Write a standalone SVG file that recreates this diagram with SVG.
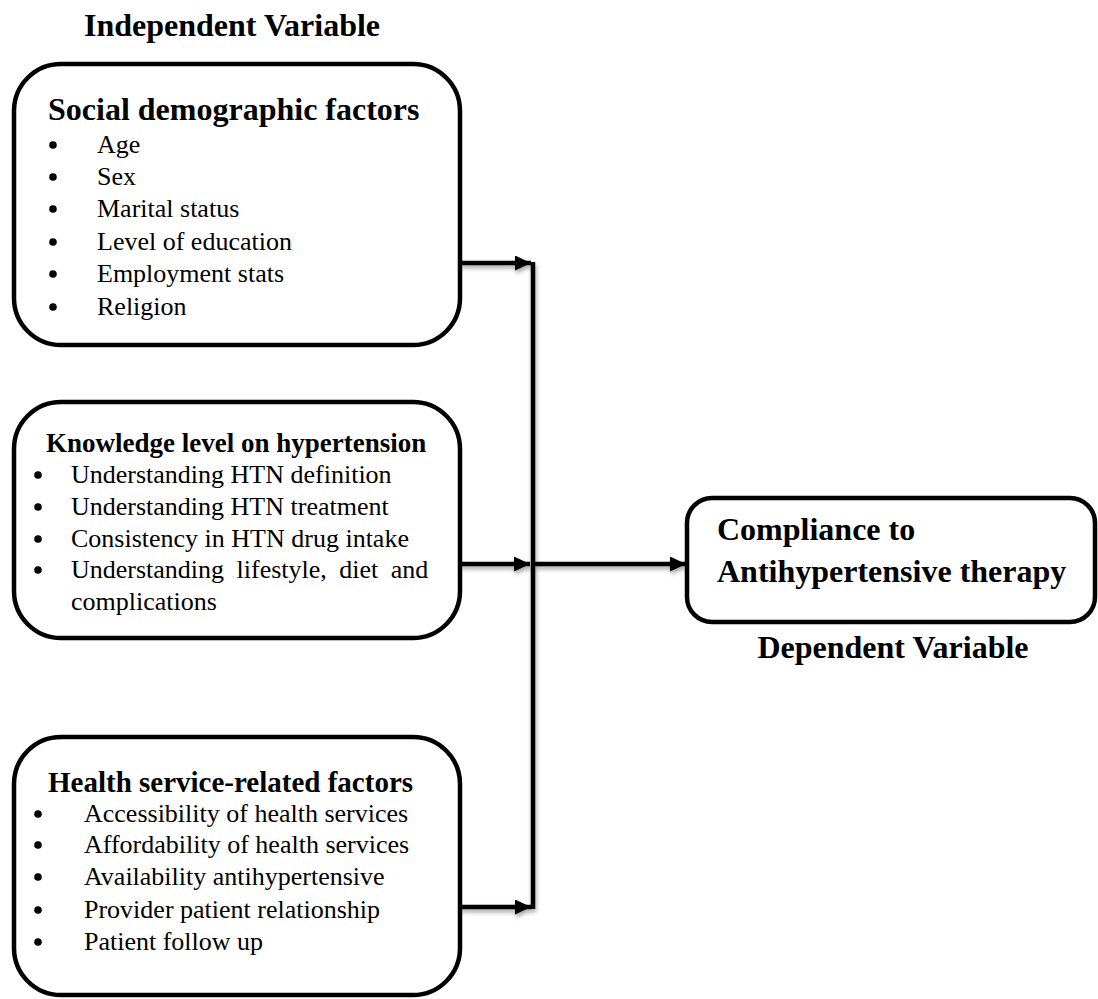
<svg xmlns="http://www.w3.org/2000/svg" width="1098" height="999" viewBox="0 0 1098 999">
<style>
.box{fill:#fff;stroke:#000;stroke-width:4.5}
.t{font-family:"Liberation Serif","Times New Roman",serif;fill:#000}
.b{font-weight:bold}
.h32{font-size:32px}
.it{font-size:26px}
.bu{fill:#000}
.conn{stroke:#000;stroke-width:4.5;fill:none}
</style>
<defs>
<marker id="ah" markerUnits="userSpaceOnUse" markerWidth="16" markerHeight="16" refX="16" refY="7.5" orient="auto">
<path d="M0,0 L16,7.5 L0,15 z" fill="#000"/>
</marker>
<filter id="sh" x="-10%" y="-50%" width="120%" height="300%">
<feDropShadow dx="1" dy="3" stdDeviation="2" flood-color="#000" flood-opacity="0.35"/>
</filter>
</defs>
<text class="t b h32" x="232" y="36" text-anchor="middle">Independent Variable</text>
<g id="social">
<rect class="box" x="14" y="64" width="446" height="281" rx="47" ry="47"/>
<text class="t b h32" x="48" y="120">Social demographic factors</text>
<g class="bu">
<circle cx="53" cy="145" r="3.8"/>
<circle cx="53" cy="177" r="3.8"/>
<circle cx="53" cy="209" r="3.8"/>
<circle cx="53" cy="242" r="3.8"/>
<circle cx="53" cy="274" r="3.8"/>
<circle cx="53" cy="307" r="3.8"/>
</g>
<g class="t it">
<text x="97" y="153">Age</text>
<text x="97" y="185">Sex</text>
<text x="97" y="217">Marital status</text>
<text x="97" y="250">Level of education</text>
<text x="97" y="282">Employment stats</text>
<text x="97" y="315">Religion</text>
</g>
</g>
<g id="knowledge">
<rect class="box" x="14" y="402" width="446" height="236" rx="47" ry="47"/>
<text class="t b" font-size="27" x="46" y="452">Knowledge level on hypertension</text>
<g class="bu">
<circle cx="38" cy="475" r="3.8"/>
<circle cx="38" cy="507" r="3.8"/>
<circle cx="38" cy="539" r="3.8"/>
<circle cx="38" cy="570" r="3.8"/>
</g>
<g class="t it">
<text x="71" y="483">Understanding HTN definition</text>
<text x="71" y="515">Understanding HTN treatment</text>
<text x="71" y="547">Consistency in HTN drug intake</text>
<text x="71" y="578" word-spacing="6">Understanding lifestyle, diet and</text>
<text x="71" y="610">complications</text>
</g>
</g>
<g id="health">
<rect class="box" x="14" y="737" width="446" height="258" rx="47" ry="47"/>
<text class="t b" font-size="29" x="48" y="792">Health service-related factors</text>
<g class="bu">
<circle cx="38" cy="814" r="3.8"/>
<circle cx="38" cy="845" r="3.8"/>
<circle cx="38" cy="877" r="3.8"/>
<circle cx="38" cy="910" r="3.8"/>
<circle cx="38" cy="942" r="3.8"/>
</g>
<g class="t it">
<text x="84" y="822">Accessibility of health services</text>
<text x="84" y="853">Affordability of health services</text>
<text x="84" y="885">Availability antihypertensive</text>
<text x="84" y="918">Provider patient relationship</text>
<text x="84" y="950">Patient follow up</text>
</g>
</g>
<g id="compliance">
<rect class="box" x="687" y="498" width="408" height="124" rx="25" ry="25"/>
<text class="t b h32" x="717" y="540">Compliance to</text>
<text class="t b h32" x="717" y="582">Antihypertensive therapy</text>
<text class="t b h32" x="893" y="658" text-anchor="middle">Dependent Variable</text>
</g>
<g id="connectors" filter="url(#sh)">
<line class="conn" x1="533" y1="262" x2="533" y2="909"/>
<line class="conn" x1="460" y1="263" x2="531" y2="263" marker-end="url(#ah)"/>
<line class="conn" x1="460" y1="564" x2="530" y2="564" marker-end="url(#ah)"/>
<line class="conn" x1="460" y1="907" x2="531" y2="907" marker-end="url(#ah)"/>
<line class="conn" x1="533" y1="564" x2="686" y2="564" marker-end="url(#ah)"/>
</g>
</svg>
